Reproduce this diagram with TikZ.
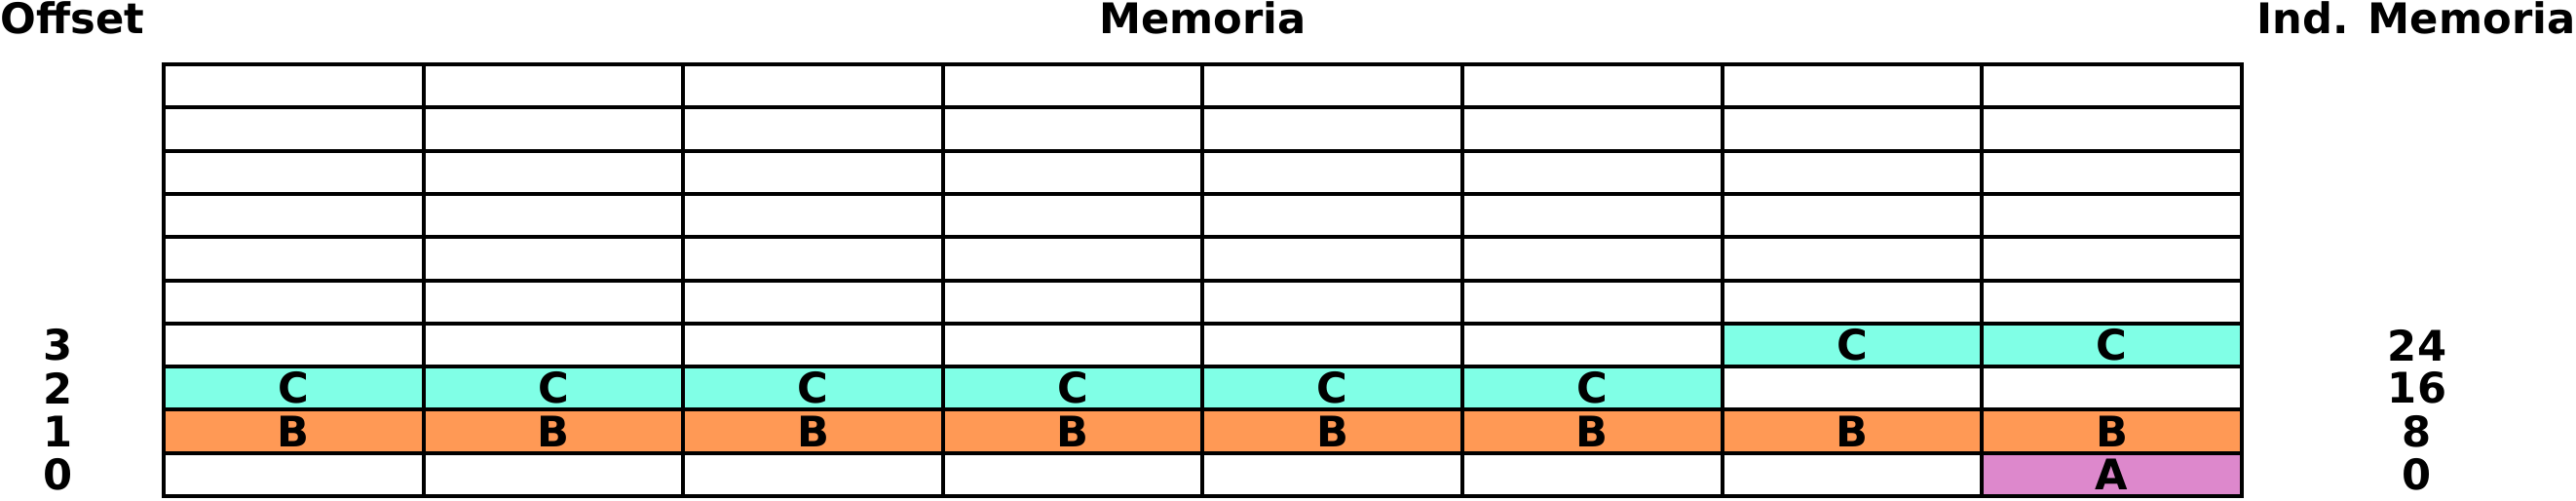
\documentclass[tikz,border=0pt]{standalone}
\usepackage{fontspec}
\setmainfont{DejaVu Sans}
\usepackage{tikz}
\usepackage{xcolor}
\usetikzlibrary{positioning}
\definecolor{cellC}{HTML}{80FFE6}
\definecolor{cellB}{HTML}{FF9955}
\definecolor{cellA}{HTML}{DD88CC}
\tikzstyle{cell}   = [rectangle, draw=black, line width=0.04cm, minimum width=2.666cm,
                      minimum height=0.443cm, inner sep=0pt, font=\fontsize{12.3}{14}\bfseries]
\tikzstyle{cellc}  = [cell, fill=cellC]
\tikzstyle{cellb}  = [cell, fill=cellB]
\tikzstyle{cella}  = [cell, fill=cellA]
\tikzstyle{label}  = [inner sep=0pt, font=\fontsize{12.3}{14}\bfseries]

\begin{document}
\begin{tikzpicture}
  \useasboundingbox (0,0) rectangle (26.44,5.13);

  % headers
  \node (offset) [label, anchor=base west] at (0,4.79)     {Offset};
  \node (memoria)[label, anchor=base]      at (12.345,4.79) {Memoria};
  \node (indmem) [label, anchor=base east] at (26.44,4.79) {Ind. Memoria};

  % memory grid
  \begin{scope}[shift={(1.68cm,0.04cm)}, x=2.666cm, y=0.443cm]
    \foreach \r in {4,...,9}
      \foreach \c in {0,...,7}
        \node (m\r-\c) [cell] at (\c+0.5,\r+0.5) {};
    % row 3
    \foreach \c in {0,...,5}
      \node (m3-\c) [cell] at (\c+0.5,3.5) {};
    \foreach \c in {6,7}
      \node (m3-\c) [cellc] at (\c+0.5,3.5) {C};
    % row 2
    \foreach \c in {0,...,5}
      \node (m2-\c) [cellc] at (\c+0.5,2.5) {C};
    \foreach \c in {6,7}
      \node (m2-\c) [cell] at (\c+0.5,2.5) {};
    % row 1
    \foreach \c in {0,...,7}
      \node (m1-\c) [cellb] at (\c+0.5,1.5) {B};
    % row 0
    \foreach \c in {0,...,6}
      \node (m0-\c) [cell] at (\c+0.5,0.5) {};
    \node (m0-7) [cella] at (7.5,0.5) {A};
  \end{scope}

  % offsets and addresses
  \foreach \r/\v in {0/0,1/8,2/16,3/24} {
    \node (off\r) [label] at (0.595,{0.04+0.443*(\r+0.5)}) {\r};
    \node (ind\r) [label] at (24.81,{0.04+0.443*(\r+0.5)}) {\v};
  }
\end{tikzpicture}
\end{document}
